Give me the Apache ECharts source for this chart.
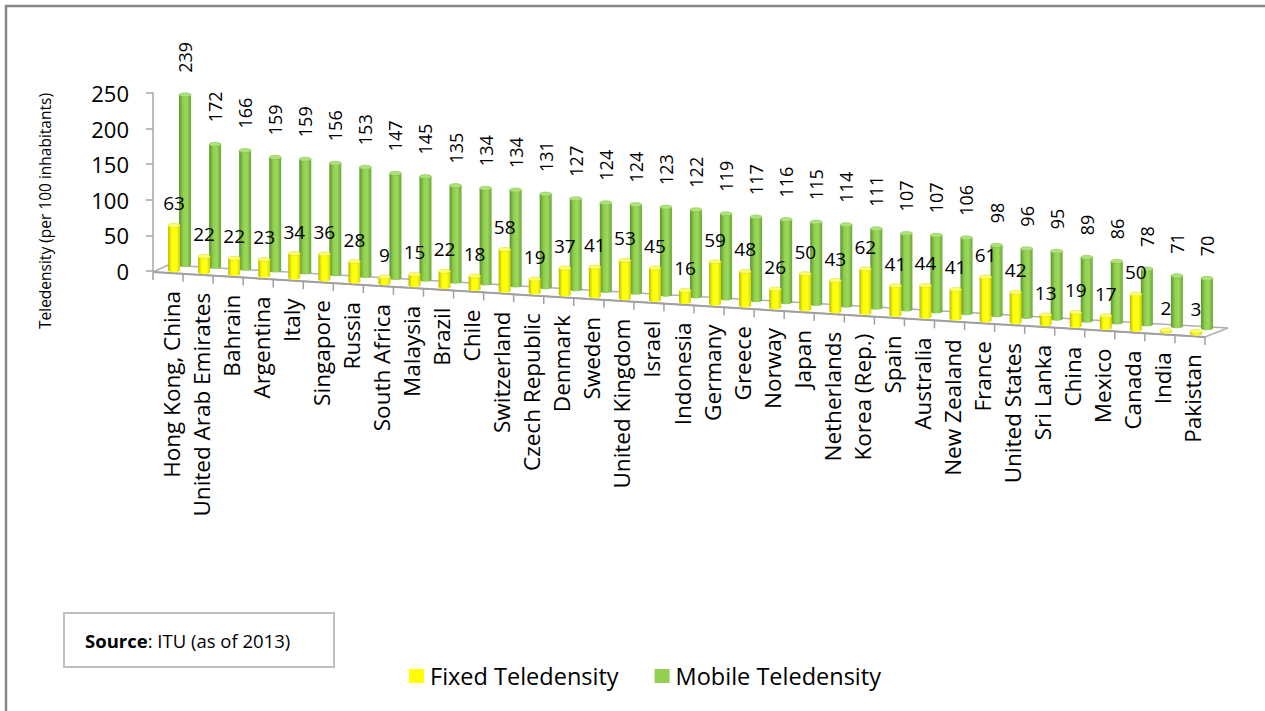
<!DOCTYPE html>
<html>
<head>
<meta charset="utf-8">
<script src="https://cdn.jsdelivr.net/npm/echarts@6/dist/echarts.min.js"></script>
<style>
html,body{margin:0;padding:0;background:#fff;}
#chart{width:1265px;height:711px;}
</style>
</head>
<body>
<div id="chart"></div>
<script>
const categories = ['Hong Kong, China','United Arab Emirates','Bahrain','Argentina','Italy','Singapore','Russia','South Africa','Malaysia','Brazil','Chile','Switzerland','Czech Republic','Denmark','Sweden','United Kingdom','Israel','Indonesia','Germany','Greece','Norway','Japan','Netherlands','Korea (Rep.)','Spain','Australia','New Zealand','France','United States','Sri Lanka','China','Mexico','Canada','India','Pakistan'];
const fixedTeledensity = [63,22,22,23,34,36,28,9,15,22,18,58,19,37,41,53,45,16,59,48,26,50,43,62,41,44,41,61,42,13,19,17,50,2,3];
const mobileTeledensity = [239,172,166,159,159,156,153,147,145,135,134,134,131,127,124,124,123,122,119,117,116,115,114,111,107,107,106,98,96,95,89,86,78,71,70];
const yMin = 0, yMax = 250, yInterval = 50;
const seriesNames = ['Fixed Teledensity','Mobile Teledensity'];
const yTitle = 'Teledensity (per 100 inhabitants)';
const sourceText = 'ITU (as of 2013)';

const FONT = 'Open Sans';
const SLOPE = 0.0618;

const chart = echarts.init(document.getElementById('chart'), null, {renderer:'svg'});

function frontY(api, cs, x){
  const zero = api.coord([0,0])[1];
  return zero + 1 + SLOPE*(x - cs.x);
}

function makeCylinder(kind){
  const isFixed = kind === 'fixed';
  const grad = isFixed
    ? [{offset:0,color:'#b8b800'},{offset:0.3,color:'#ffff00'},{offset:0.7,color:'#ffff1a'},{offset:1,color:'#d0d000'}]
    : [{offset:0,color:'#5a952a'},{offset:0.35,color:'#92d050'},{offset:0.65,color:'#9bd85c'},{offset:1,color:'#6aa636'}];
  const topColor = isFixed ? '#ffff70' : '#aee27a';
  return function(params, api){
    const i = api.value(0), v = api.value(1);
    const cs = params.coordSys;
    const bw = api.size([1,0])[0];
    const p0 = api.coord([i,0]);
    const p1 = api.coord([i,v]);
    const h = p0[1]-p1[1];
    const x = p0[0] + bw*(isFixed ? 0.2 : 0.565);
    const base = frontY(api, cs, x) + (isFixed ? -3 : -9);
    const top = base - h;
    const w = 12;
    const fill = new echarts.graphic.LinearGradient(0,0,1,0,grad);
    const children = [
      {type:'ellipse', shape:{cx:x, cy:base, rx:w/2, ry:2}, style:{fill:fill}},
      {type:'rect', shape:{x:x-w/2, y:top, width:w, height:h}, style:{fill:fill}},
      {type:'ellipse', shape:{cx:x, cy:top, rx:w/2, ry:2}, style:{fill:topColor, stroke: isFixed ? '#d6d600' : '#7fbf45', lineWidth:0.5}}
    ];
    if (isFixed){
      children.push({type:'text', x:x, y:top-22, z2:50, style:{text:String(v), fill:'#000', fontSize:19, fontFamily:FONT, align:'center', verticalAlign:'middle'}});
    } else {
      children.push({type:'text', x:x, y:top-22, rotation:Math.PI/2, z2:50, style:{text:String(v), fill:'#000', fontSize:18, fontFamily:FONT, align:'left', verticalAlign:'middle'}});
    }
    return {type:'group', children:children};
  };
}

function floorRender(params, api){
  const i = api.value(0);
  const cs = params.coordSys;
  const bw = api.size([1,0])[0];
  const cx = api.coord([i,0])[0];
  const children = [];
  if (i === 0){
    const xl = cs.x, xr = cs.x + cs.width;
    const yl = frontY(api, cs, xl), yr = frontY(api, cs, xr);
    children.push({type:'polygon', shape:{points:[[xl,yl],[xr,yr],[xr+23,yr-9],[xl+15,yl-7]]}, style:{fill:'#fff', stroke:'#b0b0b0', lineWidth:1.5}});
    children.push({type:'line', shape:{x1:xl,y1:yl,x2:xr,y2:yr}, style:{stroke:'#a0a0a0', lineWidth:2}});
    const xe = xr; const ye = frontY(api, cs, xe);
    children.push({type:'line', shape:{x1:xe,y1:ye,x2:xe,y2:ye+8}, style:{stroke:'#a0a0a0', lineWidth:1.5}});
  }
  const xb = cx - bw/2;
  const yb = frontY(api, cs, xb);
  children.push({type:'line', shape:{x1:xb,y1:yb,x2:xb,y2:yb+8}, style:{stroke:'#a0a0a0', lineWidth:1.5}});
  children.push({type:'text', x:cx+3, y:frontY(api, cs, cx)+18, rotation:Math.PI/2, style:{text:categories[i], fill:'#000', fontSize:22.5, fontFamily:FONT, align:'right', verticalAlign:'middle'}});
  return {type:'group', children:children};
}

const option = {
  backgroundColor:'#fff',
  animation:false,
  grid:{left:153, right:60, top:93, height:178, containLabel:false},
  xAxis:{type:'category', data:categories, show:false},
  yAxis:{type:'value', min:yMin, max:yMax, interval:yInterval,
    axisLine:{show:true, lineStyle:{color:'#a6a6a6', width:1.5}},
    axisTick:{show:true, length:7, lineStyle:{color:'#a6a6a6', width:1.5}},
    axisLabel:{fontSize:22, fontFamily:FONT, color:'#000', margin:24},
    splitLine:{show:false}},
  legend:{data:seriesNames, left:404, top:659, icon:'rect', itemWidth:15, itemHeight:14, itemGap:36,
    textStyle:{fontSize:23.5, fontFamily:FONT, color:'#000', padding:[0,0,0,1]}},
  graphic:[
    {type:'rect', shape:{x:6, y:6, width:1300, height:760}, style:{fill:'none', stroke:'#878787', lineWidth:2.5}, silent:true},
    {type:'rect', shape:{x:64, y:613, width:270, height:54}, style:{fill:'#fff', stroke:'#bfbfbf', lineWidth:2}},
    {type:'text', x:85, y:640, style:{text:'{b|Source}: ' + sourceText, fill:'#000', fontSize:18.5, fontFamily:FONT, verticalAlign:'middle',
      rich:{b:{fontWeight:'bold', fontSize:18.5, fontFamily:FONT, fill:'#000'}}}},
    {type:'text', x:45, y:211, rotation:Math.PI/2, style:{text:yTitle, fill:'#000', fontSize:15.5, fontFamily:FONT, align:'center', verticalAlign:'middle'}}
  ],
  series:[
    {name:'floor', type:'custom', renderItem:floorRender, data:categories.map((c,i)=>[i,0]), silent:true, z:1},
    {name:seriesNames[1], type:'custom', renderItem:makeCylinder('mobile'), data:mobileTeledensity.map((v,i)=>[i,v]), itemStyle:{color:'#92d050'}, z:2},
    {name:seriesNames[0], type:'custom', renderItem:makeCylinder('fixed'), data:fixedTeledensity.map((v,i)=>[i,v]), itemStyle:{color:'#ffff00'}, z:3}
  ]
};
chart.setOption(option);
</script>
</body>
</html>
